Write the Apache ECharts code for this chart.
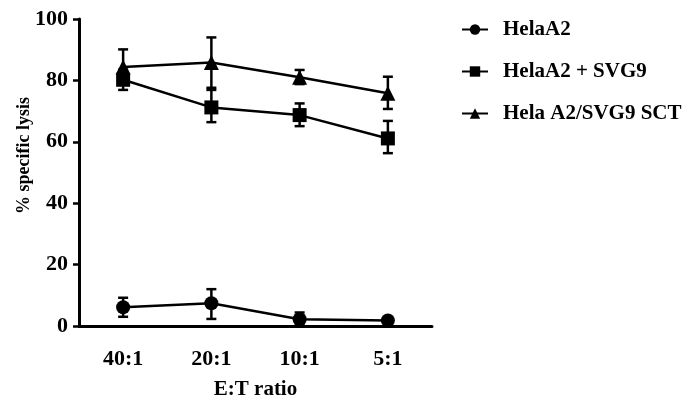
<!DOCTYPE html>
<html>
<head>
<meta charset="utf-8">
<script src="https://cdn.jsdelivr.net/npm/echarts@6/dist/echarts.min.js"></script>
<style>
  html, body { margin: 0; padding: 0; background: #fff; }
  #chart { width: 691px; height: 402px; }
</style>
</head>
<body>
<div id="chart"></div>
<script>
const categories = ['40:1', '20:1', '10:1', '5:1']

const helaA2 = [6.1, 7.4, 2.2, 1.8]
const helaA2Low = [3.0, 2.3, 0.4, 1.2]
const helaA2High = [9.2, 12.0, 4.4, 2.4]

const helaSvg9 = [80.2, 71.2, 68.7, 61.1]
const helaSvg9Low = [76.9, 66.4, 65.1, 56.3]
const helaSvg9High = [83.5, 76.9, 72.5, 66.8]

const helaSct = [84.4, 85.8, 81.0, 75.8]
const helaSctLow = [78.7, 77.6, 78.8, 70.7]
const helaSctHigh = [90.1, 94.0, 83.4, 81.2]

const font = '"Liberation Serif", "DejaVu Serif", serif'

const errorSeries = (low, high) => ({
  type: 'custom',
  silent: true,
  z: 1,
  data: categories.map((c, i) => [i, low[i], high[i]]),
  renderItem: (params, api) => {
    const lo = api.coord([api.value(0), api.value(1)])
    const hi = api.coord([api.value(0), api.value(2)])
    const cap = 5
    const style = { stroke: '#000', lineWidth: 2.5 }
    return {
      type: 'group',
      children: [
        { type: 'line', shape: { x1: lo[0], y1: lo[1], x2: hi[0], y2: hi[1] }, style },
        { type: 'line', shape: { x1: hi[0] - cap, y1: hi[1], x2: hi[0] + cap, y2: hi[1] }, style },
        { type: 'line', shape: { x1: lo[0] - cap, y1: lo[1], x2: lo[0] + cap, y2: lo[1] }, style }
      ]
    }
  }
})

const lineSeries = (name, data, symbol, size) => ({
  name,
  type: 'line',
  data,
  symbol,
  symbolSize: size,
  z: 3,
  lineStyle: { color: '#000', width: 2.5 },
  itemStyle: { color: '#000' }
})

const chart = echarts.init(document.getElementById('chart'))
chart.setOption({
  backgroundColor: '#fff',
  animation: false,
  textStyle: { fontFamily: font },
  grid: { left: 79, right: 259, top: 19, bottom: 76, outerBoundsMode: 'none', containLabel: false },
  legend: {
    orient: 'vertical',
    left: 456,
    top: 14,
    itemGap: 21,
    itemWidth: 26,
    itemHeight: 13,
    textStyle: { fontFamily: font, fontWeight: 'bold', fontSize: 21, color: '#000', padding: [0, 0, 0, 10] },
    data: ['HelaA2', 'HelaA2 + SVG9', 'Hela A2/SVG9 SCT']
  },
  xAxis: {
    type: 'category',
    data: categories,
    name: 'E:T ratio',
    nameLocation: 'middle',
    nameGap: 53,
    nameMoveOverlap: false,
    nameTextStyle: { fontFamily: font, fontWeight: 'bold', fontSize: 21, color: '#000' },
    axisLine: { lineStyle: { color: '#000', width: 3 } },
    axisTick: { alignWithLabel: true, length: 7, lineStyle: { color: '#000', width: 2.5 } },
    axisLabel: { margin: 22, fontFamily: font, fontWeight: 'bold', fontSize: 22, color: '#000' }
  },
  yAxis: {
    type: 'value',
    min: 0,
    max: 100,
    interval: 20,
    name: '% specific lysis',
    nameLocation: 'middle',
    nameGap: 46,
    nameMoveOverlap: false,
    nameTextStyle: { fontFamily: font, fontWeight: 'bold', fontSize: 18, color: '#000', padding: [0, 0, 0, 34] },
    splitLine: { show: false },
    axisLine: { show: true, lineStyle: { color: '#000', width: 3 } },
    axisTick: { show: true, length: 6, lineStyle: { color: '#000', width: 2.5 } },
    axisLabel: { margin: 11, fontFamily: font, fontWeight: 'bold', fontSize: 22, color: '#000' }
  },
  series: [
    errorSeries(helaA2Low, helaA2High),
    errorSeries(helaSvg9Low, helaSvg9High),
    errorSeries(helaSctLow, helaSctHigh),
    lineSeries('HelaA2', helaA2, 'circle', 14),
    lineSeries('HelaA2 + SVG9', helaSvg9, 'rect', 14),
    lineSeries('Hela A2/SVG9 SCT', helaSct, 'triangle', 15)
  ]
})
</script>
</body>
</html>
